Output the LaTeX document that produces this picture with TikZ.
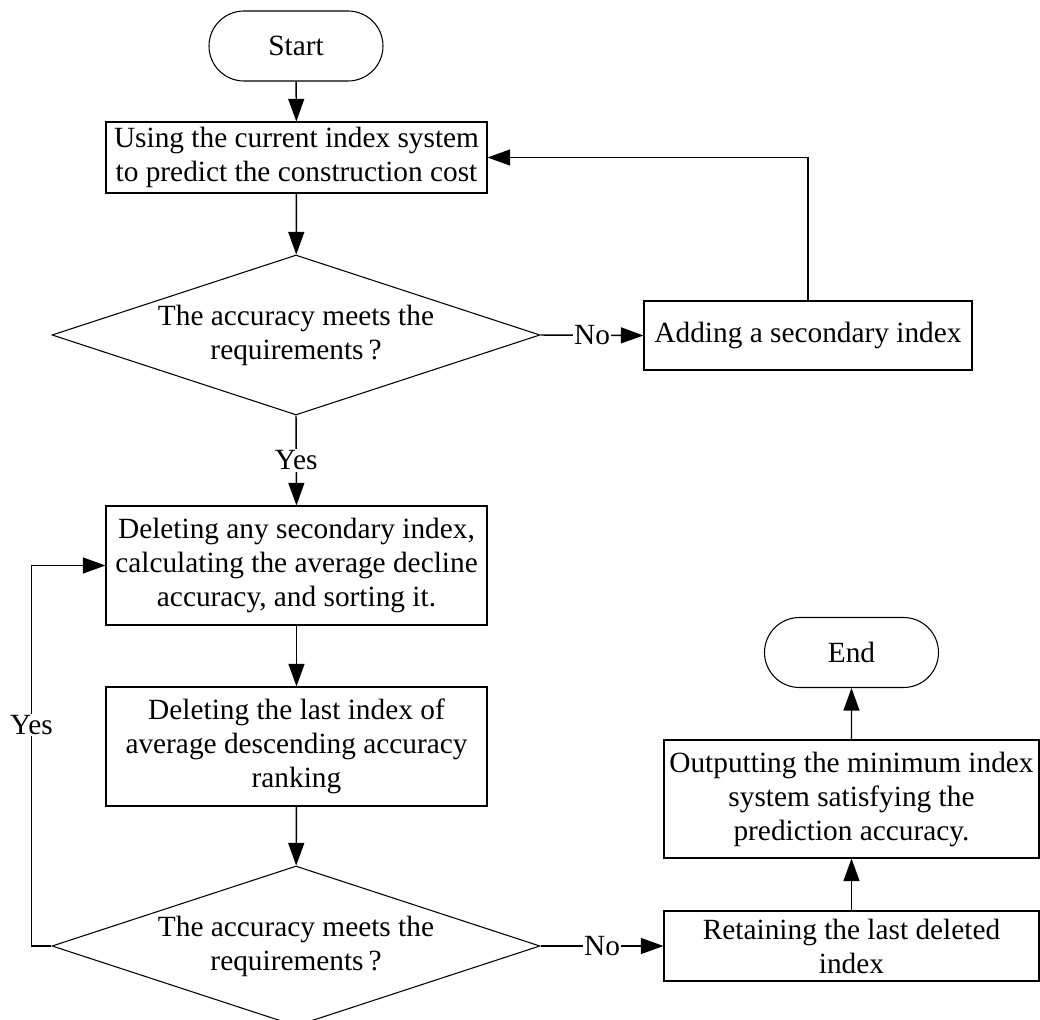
\documentclass[tikz,border=0pt]{standalone}
\usepackage{fontspec}
\setmainfont{Liberation Serif}
\usetikzlibrary{shapes.geometric,shapes.misc,arrows.meta}
\begin{document}
\begin{tikzpicture}[x=0.75pt,y=-0.75pt,
  every node/.style={font=\fontsize{22}{25.5}\selectfont},
  box/.style={draw, line width=0.8pt, rectangle, inner sep=0pt, align=center},
  term/.style={draw, line width=0.8pt, rounded rectangle, inner sep=0pt, minimum width=130.5pt, minimum height=52.5pt},
  dec/.style={draw, line width=0.8pt, diamond, aspect=3.05, inner sep=0pt, minimum width=366pt, minimum height=120pt, align=center},
  arr/.style={line width=1.1pt, -{Triangle[length=17pt,width=12pt]}},
  lbl/.style={fill=white, inner sep=1pt}
]
\useasboundingbox (0,0) rectangle (1040,1020);

\node[term] (start) at (296,46) {Start};
\node[box, minimum width=285.75pt, minimum height=53.25pt] (b1) at (296.5,157.5) {Using the current index system\\to predict the construction cost};
\node[dec] (d1) at (296,335) {The accuracy meets the\\requirements\,?};
\node[box, minimum width=246pt, minimum height=51.75pt] (add) at (808,335.5) {Adding a secondary index};
\node[box, minimum width=285.75pt, minimum height=89.25pt] (b2) at (296.5,565.5) {Deleting any secondary index,\\calculating the average decline\\accuracy, and sorting it.};
\node[box, minimum width=285.75pt, minimum height=89.25pt] (b3) at (296.5,746.5) {Deleting the last index of\\average descending accuracy\\ranking};
\node[dec] (d2) at (296,946) {The accuracy meets the\\requirements\,?};
\node[box, minimum width=281.25pt, minimum height=52.5pt] (ret) at (851.5,946) {Retaining the last deleted\\index};
\node[box, minimum width=281.25pt, minimum height=88.5pt] (out) at (851.5,799) {Outputting the minimum index\\system satisfying the\\prediction accuracy.};
\node[term] (end) at (851.5,652.5) {End};

\draw[arr] (start) -- (b1);
\draw[arr] (b1) -- (d1);
\draw[arr] (d1.south) -- node[lbl]{Yes} (b2.north);
\draw[arr] (d1.east) -- node[lbl]{No} (add.west);
\draw[arr] (add.north) |- (b1.east);
\draw[arr] (b2) -- (b3);
\draw[arr] (b3) -- (d2);
\draw[arr] (d2.west) -- ++(-20,0) coordinate (yl) |- node[lbl, pos=0.29]{Yes} (b2.west);
\draw[arr] (d2.east) -- node[lbl]{No} (ret.west);
\draw[arr] (ret) -- (out);
\draw[arr] (out) -- (end);
\end{tikzpicture}
\end{document}
